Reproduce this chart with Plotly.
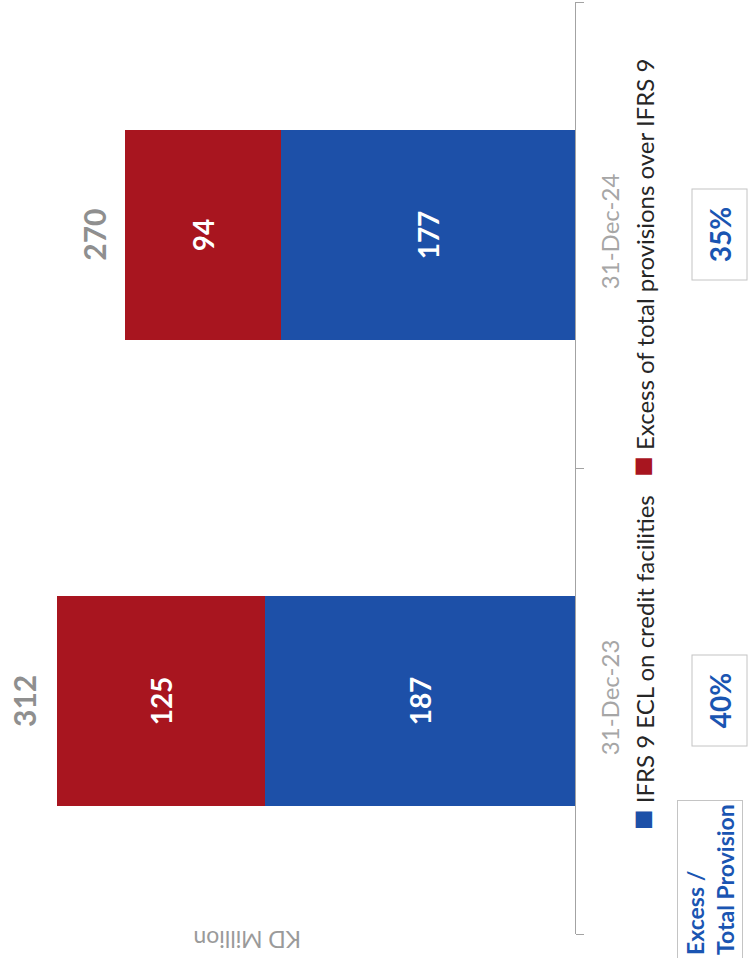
import plotly.graph_objects as go

# ---- data ----
categories = ["31-Dec-23", "31-Dec-24"]
ecl_values = [187, 177]
excess_values = [125, 94]
total_labels = [312, 270]
ratio_labels = ["40%", "35%"]
series_names = ["IFRS 9 ECL on credit facilities", "Excess of total provisions over IFRS 9"]

# ---- style ----
W, H = 751, 958
ML, MR, MT, MB = 0, 176, 2, 24
PW, PH = W - ML - MR, H - MT - MB
BLUE = "#1d50a8"
RED = "#a8151f"
FONT = "Lato, Carlito, 'Open Sans', sans-serif"


def px_x(p):
    return (p - ML) / PW


def px_y(p):
    return (H - MB - p) / PH


fig = go.Figure()
for vals, name, col in [(ecl_values, series_names[0], BLUE), (excess_values, series_names[1], RED)]:
    fig.add_trace(go.Bar(
        y=categories, x=vals, orientation="h", name=name,
        marker=dict(color=col, line=dict(width=0)),
        text=vals, textposition="inside", insidetextanchor="middle",
        textangle=-90, textfont=dict(color="white", size=28, family=FONT, weight="bold"),
        hoverinfo="skip",
    ))

annotations = []
# totals
for cat, tot in zip(categories, total_labels):
    annotations.append(dict(
        x=tot, y=cat, xref="x", yref="y", text=f"<b>{tot}</b>", showarrow=False,
        xanchor="center", yanchor="middle",
        textangle=-90, xshift=-33, font=dict(size=30, color="#8f8f8f", family=FONT),
    ))
# ratio boxes
for cat, r in zip(categories, ratio_labels):
    annotations.append(dict(
        x=px_x(719.5), y=cat, xref="paper", yref="y", text=f"<b>{r}</b>",
        xanchor="center", yanchor="middle",
        showarrow=False, textangle=-90, width=88, height=52,
        bordercolor="#c4c4c4", borderwidth=1,
        font=dict(size=28, color="#1a55b2", family=FONT),
    ))
# ratio heading
annotations.append(dict(
    x=px_x(710), y=px_y(880), xref="paper", yref="paper",
    xanchor="center", yanchor="middle",
    text="<b>Excess /<br>Total Provision</b>", showarrow=False, textangle=-90,
    align="left", borderpad=3, bordercolor="#c4c4c4", borderwidth=1,
    font=dict(size=23, color="#1a55b2", family=FONT),
))
# legend
sq = "<span style='color:{c};font-size:34px'>■</span>"
annotations.append(dict(
    x=px_x(640), y=px_y(445), xref="paper", yref="paper", showarrow=False,
    xanchor="center", yanchor="middle",
    textangle=-90,
    text=(sq.format(c=BLUE) + f" {series_names[0]}&nbsp;&nbsp;&nbsp;"
          + sq.format(c=RED) + f" {series_names[1]}"),
    font=dict(size=24, color="#262626", family=FONT),
))
# unit label
annotations.append(dict(
    x=px_x(247), y=px_y(940), xref="paper", yref="paper", showarrow=False,
    xanchor="center", yanchor="middle",
    textangle=180, text="KD Million",
    font=dict(size=23, color="#9a9a9a", family=FONT),
))

fig.update_layout(
    width=W, height=H, barmode="stack", bargap=0.55,
    margin=dict(l=ML, r=MR, t=MT, b=MB),
    paper_bgcolor="white", plot_bgcolor="white",
    showlegend=False, font=dict(family=FONT),
    annotations=annotations,
)
fig.update_xaxes(
    range=[PW / (518 / 312), 0], showticklabels=False, showgrid=False,
    zeroline=False, showline=False, fixedrange=True,
)
fig.update_yaxes(
    side="right", type="category", categoryorder="array", categoryarray=categories,
    range=[-0.5, 1.5], showline=True, linecolor="#a3a3a3", linewidth=1,
    ticks="outside", ticklen=8, tickcolor="#a3a3a3", tickson="boundaries",
    tickangle=-90, ticklabelstandoff=14,
    tickfont=dict(size=24, color="#a6a6a6", family=FONT),
    showgrid=False, zeroline=False, fixedrange=True,
)

fig.write_html(
    "out.html",
    config={"displayModeBar": False},
    post_script="document.body.style.margin='0';document.body.style.overflow='hidden';",
)
